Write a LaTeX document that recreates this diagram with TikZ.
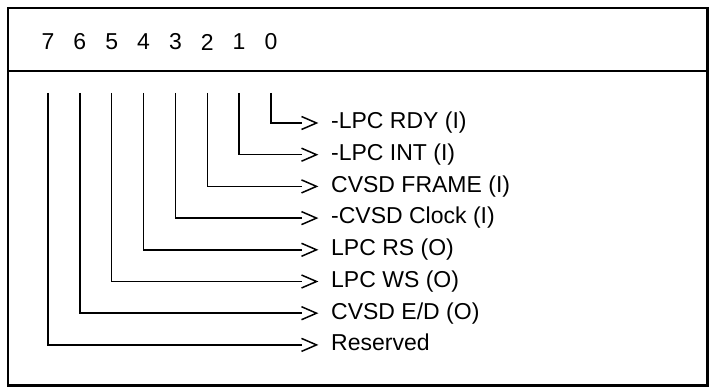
\documentclass[tikz,border=0pt]{standalone}
\usepackage{fontspec}
\setmainfont{Liberation Sans}
\usetikzlibrary{arrows.meta}
\pgfdeclarearrow{
  name = Chev,
  setup code = {
    \pgfarrowssettipend{1.5pt}
    \pgfarrowssetlineend{-14.5pt}
    \pgfarrowssetbackend{-15pt}
    \pgfarrowssetvisualbackend{-15pt}
  },
  drawing code = {
    \pgfsetdash{}{0pt}
    \pgfsetmiterjoin
    \pgfsetbuttcap
    \pgfpathmoveto{\pgfqpoint{-15pt}{6.5pt}}
    \pgfpathlineto{\pgfqpoint{0pt}{0pt}}
    \pgfpathlineto{\pgfqpoint{-15pt}{-6.5pt}}
    \pgfusepathqstroke
  }
}
\tikzset{
  frame/.style={line width=2.2pt},
  bitnum/.style={font=\fontsize{23}{27}\selectfont, inner sep=0pt},
  sig/.style={font=\fontsize{23}{27}\selectfont, anchor=west, inner sep=0pt, text height=16.5pt, text depth=4.8pt},
  wire/.style={line width=1.5pt, -Chev, shorten >=13pt},
}
\begin{document}
\begin{tikzpicture}[x=1pt,y=-1pt]
\useasboundingbox (0,0) rectangle (709,387);
\draw[frame] (8,8) rectangle (707.5,385.5);
\draw[frame] (8,71) -- (707.5,71);
\foreach \b/\txt in {0/{-LPC RDY (I)},1/{-LPC INT (I)},2/{CVSD FRAME (I)},3/{-CVSD Clock (I)},4/{LPC RS (O)},5/{LPC WS (O)},6/{CVSD E/D (O)},7/{Reserved}}{
  \coordinate (t\b) at ({271-31.86*\b},93);
  \node[bitnum] (d\b) at ({271-31.86*\b},42) {\b};
  \node[sig] (l\b) at (331,{123+31.7*\b}) {\txt};
  \draw[wire] (t\b) |- (l\b.west);
}
\end{tikzpicture}
\end{document}
